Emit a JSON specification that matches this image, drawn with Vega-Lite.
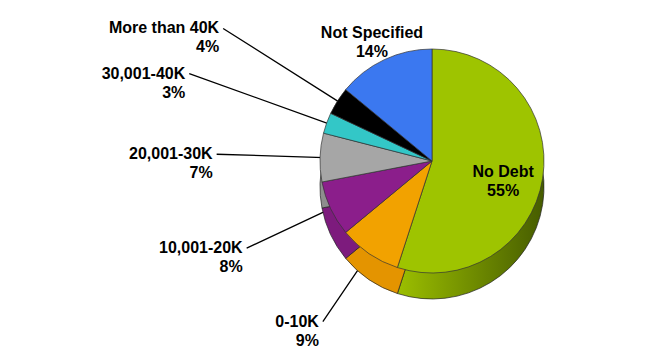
{
  "$schema": "https://vega.github.io/schema/vega-lite/v6.json",
  "autosize": "none",
  "width": 440,
  "height": 322,
  "padding": {"left": 212, "top": 0, "right": 0, "bottom": 27},
  "background": "white",
  "config": {"view": {"stroke": null}, "text": {"font": "Liberation Sans"}},
  "data": {
    "values": [
      {"ord": 1, "category": "No Debt", "percent": 55, "label": "No Debt\n55%"},
      {"ord": 2, "category": "0-10K", "percent": 9, "label": "0-10K\n9%"},
      {"ord": 3, "category": "10,001-20K", "percent": 8, "label": "10,001-20K\n8%"},
      {"ord": 4, "category": "20,001-30K", "percent": 7, "label": "20,001-30K\n7%"},
      {"ord": 5, "category": "30,001-40K", "percent": 3, "label": "30,001-40K\n3%"},
      {"ord": 6, "category": "More than 40K", "percent": 4, "label": "More than 40K\n4%"},
      {"ord": 7, "category": "Not Specified", "percent": 14, "label": "Not Specified\n14%"}
    ]
  },
  "encoding": {
    "theta": {"field": "percent", "type": "quantitative", "stack": true},
    "order": {"field": "ord", "type": "quantitative"}
  },
  "layer": [
    {
      "mark": {"type": "arc", "padAngle": 3, "stroke": "#000000", "strokeWidth": 1.3, "fill": null},
      "encoding": {
        "detail": {"field": "category", "type": "nominal"},
        "radius": {"field": "percent", "type": "quantitative", "scale": {"type": "linear", "domain": [3, 14], "range": [258, 141], "clamp": true, "zero": false, "nice": false}},
        "radius2": {"value": 100},
        "strokeOpacity": {"condition": {"test": "datum.percent >= 14", "value": 0}, "value": 1}
      }
    },
    {
      "mark": {"type": "arc", "radius": 112, "yOffset": 26, "stroke": "#222222", "strokeWidth": 0.7},
      "encoding": {
        "fill": {
          "condition": {"test": "datum.category === 'No Debt'", "value": {"gradient": "linear", "x1": 0, "y1": 0, "x2": 1, "y2": 0, "stops": [{"offset": 0, "color": "#9cbf00"}, {"offset": 1, "color": "#465c00"}]}},
          "field": "category", "type": "nominal", "legend": null,
          "scale": {"domain": ["No Debt", "0-10K", "10,001-20K", "20,001-30K", "30,001-40K", "More than 40K", "Not Specified"],
                    "range": ["#7a9800", "#e49400", "#7d1b7d", "#8e8e8e", "#2aa8a8", "#000000", "#2f62c8"]}
        }
      }
    },
    {
      "mark": {"type": "arc", "radius": 112, "stroke": "#333333", "strokeWidth": 0.7},
      "encoding": {
        "color": {
          "field": "category", "type": "nominal", "legend": null,
          "scale": {"domain": ["No Debt", "0-10K", "10,001-20K", "20,001-30K", "30,001-40K", "More than 40K", "Not Specified"],
                    "range": ["#9ec400", "#f2a200", "#8b1e8b", "#a6a6a6", "#33c7c7", "#000000", "#3b78f0"]}
        }
      }
    },
    {
      "mark": {"type": "text", "align": "right", "baseline": "middle", "dx": -4, "fontSize": 16, "fontWeight": "bold", "lineBreak": "\n", "lineHeight": 19, "fill": "#000000"},
      "encoding": {
        "detail": {"field": "category", "type": "nominal"},
        "text": {"field": "label", "type": "nominal"},
        "radius": {"field": "percent", "type": "quantitative", "scale": {"type": "linear", "domain": [3, 14], "range": [258, 141], "clamp": true, "zero": false, "nice": false}},
        "opacity": {"condition": {"test": "datum.percent >= 14", "value": 0}, "value": 1}
      }
    },
    {
      "mark": {"type": "text", "align": "center", "baseline": "middle", "fontSize": 16, "fontWeight": "bold", "lineBreak": "\n", "lineHeight": 19, "fill": "#000000"},
      "encoding": {
        "detail": {"field": "category", "type": "nominal"},
        "text": {"field": "label", "type": "nominal"},
        "radius": {"field": "percent", "type": "quantitative", "scale": {"type": "linear", "domain": [3, 14], "range": [258, 141], "clamp": true, "zero": false, "nice": false}},
        "opacity": {"condition": {"test": "datum.category === 'Not Specified'", "value": 1}, "value": 0}
      }
    },
    {
      "mark": {"type": "text", "align": "center", "baseline": "middle", "fontSize": 16, "fontWeight": "bold", "lineBreak": "\n", "lineHeight": 19, "fill": "#000000"},
      "encoding": {
        "detail": {"field": "category", "type": "nominal"},
        "text": {"field": "label", "type": "nominal"},
        "radius": {"value": 72},
        "opacity": {"condition": {"test": "datum.category === 'No Debt'", "value": 1}, "value": 0}
      }
    }
  ]
}
